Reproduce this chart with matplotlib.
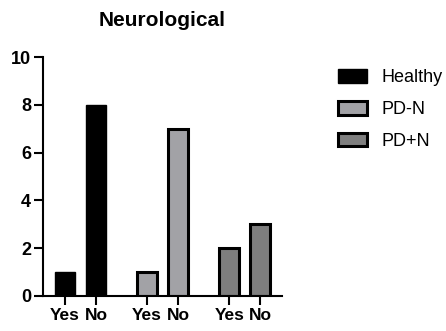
import numpy as np
import matplotlib
matplotlib.use("Agg")
import matplotlib.pyplot as plt
from matplotlib.patches import Patch

plt.rcParams['font.family'] = ['Liberation Sans', 'DejaVu Sans']

# Data
groups = ['Healthy', 'PD-N', 'PD+N']
answers = ['Yes', 'No']
counts = {
    'Healthy': [1, 8],
    'PD-N': [1, 7],
    'PD+N': [2, 3],
}
colors = {'Healthy': '#000000', 'PD-N': '#A2A2A6', 'PD+N': '#7E7E7E'}

fig = plt.figure(figsize=(4.46, 3.31), dpi=100)
ax = fig.add_axes([43 / 446, 35 / 331, 239 / 446, 239 / 331])

gap = 2.65
width = 0.65
xpos, xlabels = [], []
for i, g in enumerate(groups):
    x = np.arange(len(answers)) + i * gap
    ax.bar(x, counts[g], width=width, color=colors[g], edgecolor='black',
           linewidth=2.2 if g != 'Healthy' else 1.0)
    xpos.extend(x)
    xlabels.extend(answers)

ax.set_xlim(-0.71, 7.0)
ax.set_ylim(0, 10)
ax.set_yticks([0, 2, 4, 6, 8, 10])
ax.set_xticks(xpos)
ax.set_xticklabels(xlabels, fontsize=12.5, fontweight='bold')
for lab in ax.get_yticklabels():
    lab.set_fontsize(13)
    lab.set_fontweight('bold')

for s in ['top', 'right']:
    ax.spines[s].set_visible(False)
for s in ['left', 'bottom']:
    ax.spines[s].set_linewidth(1.5)
ax.tick_params(width=1.5, length=6.5, pad=2)

ax.set_title('Neurological', fontsize=15, fontweight='bold', pad=22)

handles = [Patch(facecolor=colors[g], edgecolor='black',
                 linewidth=2.2 if g != 'Healthy' else 1.0, label=g) for g in groups]
fig.legend(handles=handles, loc='upper left', bbox_to_anchor=(322 / 446, 1 - 53 / 331),
           frameon=False, fontsize=13, handlelength=1.6, handleheight=0.8,
           labelspacing=0.8, handletextpad=0.8)

fig.savefig('out.png', dpi=100)
